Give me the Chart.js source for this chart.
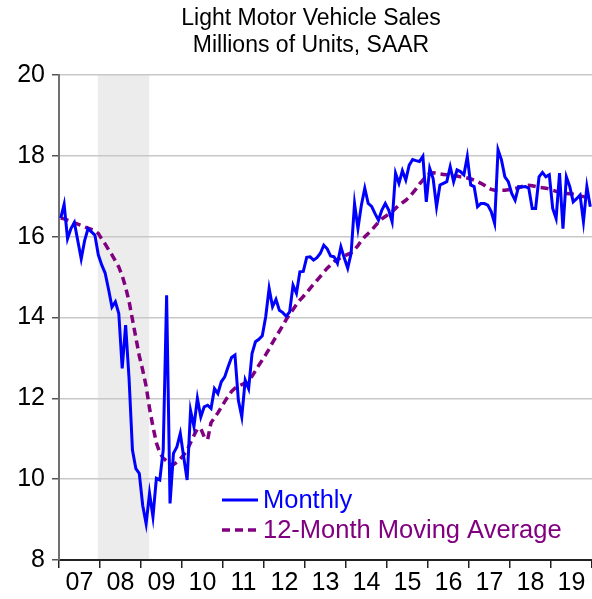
<!DOCTYPE html>
<html>
<head>
<meta charset="utf-8">
<script src="https://cdn.jsdelivr.net/npm/chart.js@4.4.1/dist/chart.umd.min.js"></script>
<style>
  html, body { margin: 0; padding: 0; background: #fff; }
  #wrap { width: 592px; height: 599px; }
</style>
</head>
<body>
<div id="wrap"><canvas id="salesChart" width="592" height="599"></canvas></div>
<script>
// Light vehicle sales, SAAR, millions of units, Jan 2007 - Dec 2019
const yearLabels = ['07', '08', '09', '10', '11', '12', '13', '14', '15', '16', '17', '18', '19'];

const monthly = [
  16.46, 16.8, 15.95, 16.2, 16.35, 15.9, 15.45, 15.9, 16.2, 16.12, 16.04, 15.55,
  15.3, 15.1, 14.7, 14.26, 14.39, 14.1, 12.74, 13.81, 12.5, 10.72, 10.26, 10.14,
  9.35, 8.9, 9.65, 9.07, 10.02, 9.98, 10.72, 14.55, 9.4, 10.64, 10.8, 11.13,
  10.55, 9.98, 11.7, 11.3, 12.0, 11.54, 11.79, 11.83, 11.75, 12.24, 12.12, 12.41,
  12.53, 12.78, 13.01, 13.07, 11.95, 11.54, 12.45, 12.24, 13.11, 13.4, 13.46, 13.55,
  14.02, 14.72, 14.27, 14.45, 14.18, 14.12, 14.03, 14.14, 14.8, 14.6, 15.13, 15.14,
  15.49, 15.5, 15.42, 15.48, 15.59, 15.79, 15.7, 15.52, 15.5, 15.34, 15.75, 15.47,
  15.22, 15.59, 16.82, 16.2, 16.78, 17.2, 16.82, 16.75, 16.57, 16.41, 16.66, 16.82,
  16.66, 16.37, 17.57, 17.32, 17.63, 17.4, 17.77, 17.91, 17.88, 17.86, 17.99, 16.86,
  17.69, 17.44, 16.74, 17.28, 17.32, 17.36, 17.73, 17.36, 17.65, 17.61, 17.53, 17.98,
  17.28, 17.24, 16.74, 16.82, 16.82, 16.78, 16.62, 16.33, 18.15, 17.9, 17.48, 17.36,
  17.07, 16.9, 17.24, 17.23, 17.24, 17.2, 16.7, 16.7, 17.48, 17.59, 17.48, 17.53,
  16.7, 16.45, 17.57, 16.2, 17.48, 17.24, 16.86, 16.94, 17.03, 16.37, 17.24, 16.74
];

const movingAvg = [
  16.46, 16.44, 16.41, 16.38, 16.34, 16.31, 16.28, 16.24, 16.21, 16.18, 16.15, 16.08,
  15.94, 15.82, 15.68, 15.55, 15.4, 15.25, 15.03, 14.75, 14.4, 13.95, 13.5, 13.05,
  12.7, 12.3, 11.75, 11.3, 10.9, 10.65, 10.52, 10.45, 10.36, 10.36, 10.42, 10.5,
  10.6, 10.72, 10.9, 11.08, 11.25, 11.25, 11.05, 10.98, 11.4, 11.52, 11.64, 11.78,
  11.92, 12.05, 12.17, 12.25, 12.3, 12.34, 12.38, 12.45, 12.55, 12.68, 12.82, 12.95,
  13.08, 13.22, 13.38, 13.52, 13.66, 13.8, 13.95, 14.08, 14.2, 14.32, 14.43, 14.52,
  14.62, 14.72, 14.82, 14.92, 15.02, 15.12, 15.22, 15.3, 15.38, 15.44, 15.48, 15.52,
  15.56, 15.6, 15.68, 15.78, 15.9, 16.0, 16.08, 16.16, 16.26, 16.36, 16.44, 16.5,
  16.56, 16.62, 16.7, 16.78, 16.84, 16.9, 16.98, 17.08, 17.18, 17.3, 17.4, 17.5,
  17.56, 17.58, 17.57, 17.55, 17.54, 17.53, 17.52, 17.51, 17.5, 17.48, 17.47, 17.45,
  17.43, 17.4, 17.36, 17.32, 17.27, 17.21, 17.17, 17.15, 17.15, 17.15, 17.15, 17.16,
  17.17, 17.19, 17.21, 17.24, 17.26, 17.27, 17.26, 17.24, 17.22, 17.21, 17.2, 17.18,
  17.15, 17.12, 17.1, 17.08, 17.07, 17.06, 17.05, 17.03, 17.01, 16.99, 16.97, 16.95
];

// recession band, in months from Jan 2007
const recession = [11.35, 26.4];

const titleLines = ['Light Motor Vehicle Sales', 'Millions of Units, SAAR'];
const FONT = 'Arial, "Liberation Sans", sans-serif';

const toPoints = (arr) => arr.map((v, i) => ({ x: i + 0.5, y: v }));

const recessionBand = {
  id: 'recessionBand',
  beforeDraw(chart) {
    const { ctx, chartArea, scales } = chart;
    const x0 = scales.x.getPixelForValue(recession[0]);
    const x1 = scales.x.getPixelForValue(recession[1]);
    ctx.save();
    ctx.fillStyle = '#ececec';
    ctx.fillRect(x0, chartArea.top, x1 - x0, chartArea.bottom - chartArea.top);
    ctx.restore();
  },
};

const titleAndLegend = {
  id: 'titleAndLegend',
  afterDraw(chart) {
    const { ctx } = chart;
    ctx.save();
    ctx.fillStyle = '#000';
    ctx.font = `23px ${FONT}`;
    ctx.textAlign = 'center';
    ctx.textBaseline = 'middle';
    titleLines.forEach((t, i) => ctx.fillText(t, 311, 19 + i * 27));

    // legend inside plot
    ctx.textAlign = 'left';
    ctx.font = `25.5px ${FONT}`;
    chart.data.datasets.forEach((ds, i) => {
      const y = 500 + i * 30;
      ctx.strokeStyle = ds.borderColor;
      ctx.lineWidth = ds.borderWidth;
      ctx.setLineDash(ds.borderDash || []);
      ctx.beginPath();
      ctx.moveTo(222, y);
      ctx.lineTo(258, y);
      ctx.stroke();
      ctx.setLineDash([]);
      ctx.fillStyle = ds.borderColor;
      ctx.fillText(ds.label, 263, y + 1);
    });
    ctx.restore();
  },
};

new Chart(document.getElementById('salesChart'), {
  type: 'line',
  data: {
    datasets: [
      {
        label: 'Monthly',
        data: toPoints(monthly),
        borderColor: '#0000ff',
        borderWidth: 3,
        pointRadius: 0,
        tension: 0,
      },
      {
        label: '12-Month Moving Average',
        data: toPoints(movingAvg),
        borderColor: '#800080',
        borderWidth: 3.5,
        borderDash: [8, 5],
        pointRadius: 0,
        tension: 0,
      },
    ],
  },
  options: {
    responsive: false,
    animation: false,
    layout: { padding: { top: 75, right: 0, left: 0, bottom: 0 } },
    plugins: {
      legend: { display: false },
      title: { display: false },
      tooltip: { enabled: false },
    },
    scales: {
      x: {
        type: 'linear',
        min: 0,
        max: yearLabels.length * 12,
        afterBuildTicks: (scale) => {
          const ticks = [];
          for (let v = 0; v <= yearLabels.length * 12; v += 6) ticks.push({ value: v });
          scale.ticks = ticks;
        },
        afterFit: (scale) => { scale.height = 39; },
        border: { color: '#222', width: 2 },
        grid: {
          drawOnChartArea: false,
          tickLength: 8,
          lineWidth: 1.5,
          tickColor: (c) => (c.tick && c.tick.value % 12 === 0 ? '#222' : 'rgba(0,0,0,0)'),
        },
        ticks: {
          autoSkip: false,
          maxRotation: 0,
          padding: 0,
          color: '#000',
          font: { family: FONT, size: 25 },
          callback: (v) => (v % 12 === 6 ? yearLabels[(v - 6) / 12] : ''),
        },
      },
      y: {
        min: 8,
        max: 20,
        afterFit: (scale) => { scale.width = 59; },
        border: { color: '#707070', width: 2 },
        grid: {
          color: '#c8c8c8',
          lineWidth: 1.5,
          tickLength: 7,
          tickColor: '#555',
        },
        ticks: {
          stepSize: 2,
          padding: 7,
          color: '#000',
          font: { family: FONT, size: 25 },
        },
      },
    },
  },
  plugins: [recessionBand, titleAndLegend],
});
</script>
</body>
</html>
